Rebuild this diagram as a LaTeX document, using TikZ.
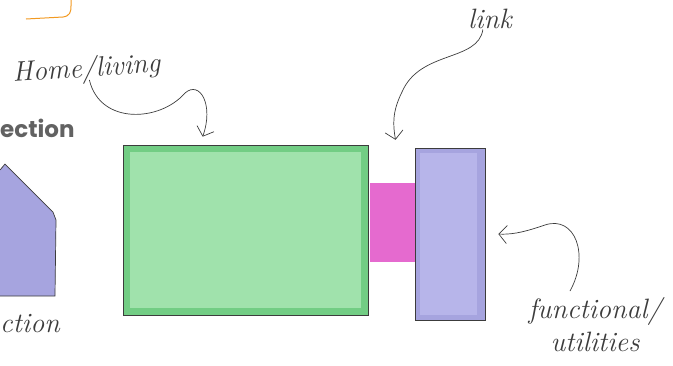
\documentclass[tikz,border=0pt]{standalone}
\usepackage{fontspec}
\newfontfamily\headfont{Poppins}
\usetikzlibrary{arrows.meta,positioning}
\definecolor{homegreen}{HTML}{72CD84}
\definecolor{homelight}{HTML}{A0E2AC}
\definecolor{linkpink}{HTML}{E56ACF}
\definecolor{utilpurple}{HTML}{A6A4DF}
\definecolor{utillight}{HTML}{B7B5EA}
\definecolor{pen}{HTML}{3C3C3C}
\definecolor{headgrey}{HTML}{626262}
\definecolor{markerorange}{HTML}{F29A22}
\tikzset{
    sketch/.style     = {x=1pt, y=-1pt, >={Straight Barb[length=8pt, width=18pt]}},
    outline/.style    = {draw=pen, line width=0.7pt},
    zone/.style       = {outline, inner sep=0pt},
    hand/.style       = {text=pen, inner sep=0pt,
                         font=\fontsize{28}{33}\selectfont\itshape},
    heading/.style    = {text=headgrey, inner sep=0pt,
                         font=\headfont\bfseries\fontsize{23}{26}\selectfont},
    pointer/.style    = {->, draw=pen, line width=0.7pt}
}

\begin{document}
\begin{tikzpicture}[sketch]
\useasboundingbox (0,0) rectangle (673,365);

% ================= Zones =================
\node[zone, fill=homegreen, minimum width=245pt, minimum height=170pt,
      path picture={\fill[homelight]
        ([shift={(7pt,-7pt)}]path picture bounding box.north west) rectangle
        ([shift={(-7pt,7pt)}]path picture bounding box.south east);}]
    (home) at (245.5, 230) {};
\node[inner sep=0pt, fill=linkpink, minimum width=45pt, minimum height=79pt]
    (link) at (392.5, 222.5) {};
\node[zone, fill=utilpurple, minimum width=70pt, minimum height=172pt,
      path picture={\fill[utillight]
        ([shift={(5pt,-5pt)}]path picture bounding box.north west) rectangle
        ([shift={(-8pt,5pt)}]path picture bounding box.south east);}]
    (util) at (450, 234) {};

% ================= Cut-off parts on the left =================
\draw[markerorange, line width=1pt] (26, 19) -- (63, 17)
    .. controls (70, 16) and (71, 12) .. (71, 6) -- (71, 0);
\filldraw[fill=utilpurple, draw=pen, line width=0.7pt]
    (0, 170) -- (5, 164) -- (53, 212) -- (56, 220) -- (55, 296) -- (0, 296);
\node[heading, anchor=base west] (section) at (0, 137) {ection};
\node[hand, anchor=base west] (sectlbl) at (0, 332) {ction};

% ================= Labels =================
\node[hand, anchor=base west, rotate=4] (homelbl) at (13, 82) {Home/living};
\node[hand, anchor=base west] (linklbl) at (468, 28) {link};
\node[hand, align=center, anchor=north] (funclbl) at (595, 297)
    {functional/\\utilities};

% ================= Pointers =================
\draw[pointer] ([xshift=2pt,yshift=4pt]homelbl.south)
    .. controls (100, 125) and (160, 122) .. (185, 93)
    .. controls (200, 80) and (214, 105) .. ([xshift=80pt,yshift=8pt]home.north west);
\draw[pointer] ([xshift=-7pt,yshift=-1pt]linklbl.south)
    .. controls (478, 62) and (420, 50) .. (402, 92)
    .. controls (392, 112) and (393, 125) .. ([xshift=3pt,yshift=43pt]link.north);
\draw[pointer] ([xshift=-25pt,yshift=6pt]funclbl.north)
    .. controls (590, 255) and (575, 215) .. (545, 225)
    .. controls (530, 230) and (515, 235) .. ([xshift=13pt]util.east);

\end{tikzpicture}
\end{document}
